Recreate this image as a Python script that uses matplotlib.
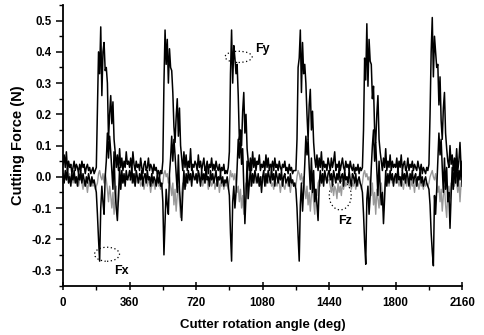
import numpy as np
import matplotlib
matplotlib.use("Agg")
import matplotlib.pyplot as plt
from matplotlib.patches import Ellipse, Arc
from matplotlib.ticker import MultipleLocator, FuncFormatter

plt.rcParams["font.family"] = ["Liberation Sans", "DejaVu Sans"]

# Cutter rotation angle (deg), sampled every 6 deg
angle = np.arange(0, 2161, 6)

# ---- Fy (values read cycle by cycle) ----
fy_c1 = [0.04, 0.07, 0.03, 0.08, 0.02, 0.05, 0.03, 0.04, 0.01, 0.03, 0.05, 0.02, 0.04, 0.03, 0.01,
         0.04, 0.02, 0.05, 0.03, 0.04, 0.01, 0.03, 0.04, 0.02, 0.03, 0.01, 0.02, 0.03, 0.01, 0.02,
         0.03, 0.22, 0.40, 0.33, 0.48, 0.26, 0.40, 0.43, 0.34, 0.35, 0.30, 0.12, 0.20, 0.26, 0.17,
         0.24, 0.12, 0.08, 0.03,
         0.07, 0.02, 0.09, 0.03, 0.06, 0.02, 0.05, 0.03, 0.08, 0.04, 0.05]
fy_c2 = [0.03, 0.06, 0.02, 0.08, 0.04, 0.02, 0.05, 0.03, 0.04, 0.02, 0.06, 0.03, 0.01, 0.04, 0.05,
         0.02, 0.03, 0.06, 0.02, 0.04, 0.03, 0.01, 0.04, 0.02, 0.03, 0.01, 0.02, 0.00, 0.02, 0.01,
         0.05, 0.30, 0.47, 0.36, 0.44, 0.30, 0.41, 0.35, 0.34, 0.27, 0.16, 0.11, 0.19, 0.25, 0.13,
         0.22, 0.10, 0.06, 0.02,
         0.08, 0.03, 0.07, 0.02, 0.05, 0.03, 0.09, 0.02, 0.04, 0.03, 0.05]
fy_c3 = [0.04, 0.02, 0.07, 0.03, 0.05, 0.02, 0.04, 0.06, 0.02, 0.03, 0.05, 0.01, 0.04, 0.03, 0.06,
         0.02, 0.04, 0.02, 0.05, 0.03, 0.02, 0.04, 0.01, 0.03, 0.02, 0.04, 0.01, 0.02, 0.01, 0.03,
         0.08, 0.33, 0.47, 0.30, 0.42, 0.38, 0.33, 0.36, 0.26, 0.12, 0.15, 0.10, 0.21, 0.27, 0.14,
         0.20, 0.09, 0.05, 0.02,
         0.06, 0.02, 0.08, 0.03, 0.06, 0.02, 0.05, 0.04, 0.07, 0.02, 0.04]
fy_c4 = [0.03, 0.05, 0.02, 0.07, 0.03, 0.06, 0.02, 0.04, 0.03, 0.05, 0.02, 0.06, 0.03, 0.04, 0.02,
         0.05, 0.03, 0.02, 0.04, 0.03, 0.05, 0.02, 0.03, 0.01, 0.04, 0.02, 0.03, 0.01, 0.02, 0.02,
         0.02, 0.12, 0.35, 0.38, 0.47, 0.27, 0.43, 0.33, 0.36, 0.30, 0.20, 0.12, 0.23, 0.28, 0.15,
         0.21, 0.11, 0.06, 0.03,
         0.07, 0.02, 0.06, 0.03, 0.08, 0.02, 0.05, 0.03, 0.04, 0.02, 0.06]
fy_c5 = [0.04, 0.02, 0.06, 0.03, 0.05, 0.08, 0.02, 0.04, 0.03, 0.05, 0.02, 0.04, 0.06, 0.03, 0.02,
         0.05, 0.03, 0.04, 0.02, 0.05, 0.03, 0.02, 0.04, 0.01, 0.03, 0.02, 0.04, 0.01, 0.03, 0.02,
         0.03, 0.15, 0.38, 0.31, 0.49, 0.29, 0.44, 0.37, 0.36, 0.25, 0.29, 0.15, 0.11, 0.20, 0.26,
         0.12, 0.08, 0.05, 0.02,
         0.06, 0.03, 0.09, 0.02, 0.05, 0.03, 0.07, 0.02, 0.05, 0.03, 0.04]
fy_c6 = [0.03, 0.06, 0.02, 0.05, 0.03, 0.07, 0.02, 0.04, 0.05, 0.02, 0.03, 0.06, 0.02, 0.04, 0.03,
         0.05, 0.02, 0.04, 0.03, 0.02, 0.05, 0.03, 0.02, 0.04, 0.01, 0.03, 0.02, 0.01, 0.03, 0.02,
         0.04, 0.20, 0.40, 0.51, 0.32, 0.45, 0.40, 0.35, 0.36, 0.23, 0.32, 0.18, 0.12, 0.22, 0.27,
         0.14, 0.09, 0.05, 0.03,
         0.10, 0.04, 0.07, 0.02, 0.06, 0.03, 0.09, 0.02, 0.05, 0.11, 0.03, 0.04]
fy = fy_c1 + fy_c2 + fy_c3 + fy_c4 + fy_c5 + fy_c6

# ---- Fx ----
fx_c1 = [0.01, -0.02, 0.02, -0.01, 0.03, -0.02, 0.00, -0.03, 0.01, -0.01, 0.02, -0.02, 0.00, -0.03, 0.01,
         -0.01, 0.02, -0.02, 0.01, -0.01, -0.03, 0.00, -0.02, 0.01, -0.01, -0.03, 0.00, -0.02, -0.01, -0.03,
         -0.05, -0.12, -0.20, -0.27, -0.10, -0.03, -0.08, -0.12, 0.00, 0.05, 0.14, 0.06, 0.13, 0.08, 0.02,
         -0.04, 0.08, -0.05, -0.10,
         -0.14, -0.06, 0.03, -0.04, 0.02, -0.02, 0.01, -0.03, 0.02, -0.01, 0.00]
fx_c2 = [0.02, -0.01, 0.03, -0.02, 0.01, -0.03, 0.02, 0.00, -0.02, 0.01, -0.01, 0.02, -0.03, 0.00, 0.01,
         -0.02, 0.02, -0.01, 0.00, -0.03, 0.01, -0.02, 0.00, -0.01, -0.03, 0.01, -0.02, 0.00, -0.03, -0.02,
         -0.08, -0.25, -0.14, -0.04, -0.09, -0.12, 0.01, 0.06, 0.13, 0.05, 0.12, 0.07, 0.01, -0.05, 0.07,
         -0.04, -0.09, -0.14, -0.05,
         0.02, -0.04, 0.01, -0.02, 0.02, -0.01, 0.01, -0.03, 0.02, 0.00, -0.01]
fx_c3 = [0.01, -0.02, 0.02, 0.00, -0.03, 0.02, -0.01, 0.01, -0.02, 0.03, -0.01, 0.00, -0.03, 0.02, -0.01,
         0.01, -0.02, 0.00, 0.02, -0.03, 0.00, -0.01, 0.01, -0.02, 0.00, -0.03, -0.01, -0.02, 0.00, -0.03,
         -0.06, -0.18, -0.27, -0.08, -0.03, -0.10, -0.05, 0.03, 0.12, 0.06, 0.14, 0.04, 0.09, -0.03, -0.15,
         -0.06, 0.05, -0.07, -0.02,
         0.03, -0.03, 0.01, -0.02, 0.02, 0.00, -0.02, 0.01, -0.03, 0.00, -0.05]
fx_c4 = [0.00, 0.02, -0.03, 0.01, -0.02, 0.02, 0.00, -0.02, 0.03, -0.01, 0.01, -0.03, 0.02, 0.00, -0.02,
         0.01, -0.01, 0.02, -0.03, 0.00, 0.01, -0.02, -0.01, 0.00, -0.03, 0.01, -0.02, -0.01, -0.03, -0.02,
         -0.04, -0.10, -0.19, -0.27, -0.09, -0.02, -0.11, -0.04, 0.04, 0.13, 0.07, 0.12, 0.03, -0.04, 0.06,
         -0.05, 0.02, -0.08, -0.04,
         -0.09, -0.14, -0.03, 0.02, -0.02, 0.01, -0.03, 0.02, 0.00, -0.02, 0.01]
fx_c5 = [0.02, -0.01, 0.01, -0.03, 0.02, 0.00, -0.02, 0.01, -0.01, 0.03, -0.02, 0.00, 0.01, -0.03, 0.02,
         -0.01, 0.00, -0.02, 0.02, -0.01, -0.03, 0.01, 0.00, -0.02, 0.01, -0.03, -0.01, 0.00, -0.02, -0.03,
         -0.05, -0.12, -0.21, -0.28, -0.07, -0.03, -0.12, -0.06, 0.03, 0.10, 0.15, 0.05, 0.11, 0.02, -0.06,
         0.05, -0.03, -0.09, -0.05,
         -0.15, -0.07, 0.02, -0.03, 0.01, -0.02, 0.02, -0.01, 0.01, -0.03, 0.00]
fx_c6 = [0.01, -0.02, 0.03, -0.01, 0.00, -0.03, 0.02, -0.01, 0.01, -0.02, 0.02, 0.00, -0.03, 0.01, -0.01,
         0.02, -0.02, 0.00, 0.01, -0.03, 0.00, -0.01, 0.02, -0.02, 0.00, -0.03, -0.01, 0.00, -0.02, -0.03,
         -0.04, -0.09, -0.18, -0.24, -0.285, -0.06, -0.12, -0.04, 0.05, 0.14, 0.07, 0.12, 0.03, -0.05, 0.06,
         -0.04, 0.03, -0.08, -0.05,
         -0.165, -0.06, 0.03, -0.04, 0.04, -0.02, 0.06, -0.03, 0.02, -0.01, 0.05, -0.03]
fx = fx_c1 + fx_c2 + fx_c3 + fx_c4 + fx_c5 + fx_c6

# ---- Fz ----
fz_c1 = [0.00, -0.01, 0.01, -0.01, 0.00, -0.02, 0.01, -0.01, 0.00, -0.02, -0.01, 0.00, -0.02, -0.01, -0.03,
         -0.01, 0.00, -0.02, -0.04, -0.01, -0.03, -0.02, -0.05, -0.02, -0.03, -0.01, -0.02, -0.03, -0.02, -0.04,
         -0.03, -0.02, 0.01, 0.02, 0.00, -0.01, 0.01, -0.02, 0.01, -0.01, -0.04, -0.08, -0.03, -0.06, -0.10,
         -0.05, -0.12, -0.07, -0.03,
         -0.10, -0.08, -0.02, -0.04, -0.01, -0.02, 0.00, -0.01, 0.01, 0.00, -0.01]
fz_c2 = [-0.01, 0.00, -0.02, 0.01, -0.01, -0.03, 0.00, -0.02, -0.01, 0.00, -0.03, -0.02, -0.01, -0.04, -0.02,
         0.00, -0.03, -0.01, -0.02, -0.05, -0.02, -0.03, -0.01, -0.04, -0.02, -0.01, -0.03, -0.02, -0.04, -0.03,
         -0.02, 0.01, 0.02, 0.00, 0.01, -0.02, 0.00, -0.03, -0.06, -0.02, -0.09, -0.04, -0.11, -0.06, -0.03,
         -0.08, -0.13, -0.05, -0.02,
         -0.04, -0.01, -0.03, 0.00, -0.02, -0.01, 0.01, -0.02, 0.00, -0.01, 0.00]
fz_c3 = [0.00, -0.02, -0.01, 0.01, -0.02, 0.00, -0.03, -0.01, -0.02, 0.00, -0.01, -0.04, -0.02, -0.01, -0.03,
         -0.02, 0.00, -0.04, -0.02, -0.03, -0.01, -0.05, -0.02, -0.03, -0.01, -0.04, -0.02, -0.03, -0.02, -0.04,
         -0.01, 0.02, 0.00, 0.01, -0.01, 0.01, -0.02, -0.05, -0.03, -0.08, -0.04, -0.10, -0.06, -0.12, -0.04,
         -0.02, -0.07, -0.03, -0.01,
         -0.03, 0.00, -0.02, -0.01, 0.01, -0.02, 0.00, -0.01, -0.03, -0.01, 0.00]
fz_c4 = [-0.02, 0.00, -0.01, -0.03, 0.01, -0.02, -0.01, 0.00, -0.03, -0.02, -0.04, -0.01, -0.02, -0.03, 0.00,
         -0.02, -0.05, -0.02, -0.01, -0.03, -0.04, -0.02, -0.01, -0.03, -0.02, -0.05, -0.02, -0.01, -0.03, -0.02,
         -0.03, 0.00, 0.02, 0.01, -0.01, 0.01, -0.02, 0.00, -0.04, -0.07, -0.03, -0.09, -0.05, -0.11, -0.06,
         -0.03, -0.08, -0.12, -0.04,
         -0.06, -0.02, -0.01, -0.03, 0.00, -0.02, 0.01, -0.01, 0.00, -0.02, -0.01]
fz_c5 = [-0.01, -0.03, -0.05, -0.02, -0.06, -0.03, -0.04, -0.07, -0.02, -0.05, -0.03, -0.06, -0.02, -0.04, -0.01,
         -0.03, -0.02, 0.00, -0.03, -0.01, -0.04, -0.02, -0.03, -0.01, -0.04, -0.02, -0.03, -0.01, -0.02, -0.04,
         -0.02, 0.01, 0.02, 0.00, 0.01, -0.01, 0.00, -0.03, -0.06, -0.02, -0.09, -0.05, -0.12, -0.04, -0.07,
         -0.10, -0.04, -0.02, -0.06,
         -0.11, -0.04, -0.01, -0.02, 0.00, -0.03, -0.01, 0.00, -0.02, -0.01, 0.00]
fz_c6 = [-0.02, 0.00, -0.01, -0.03, -0.01, 0.00, -0.02, -0.04, -0.01, -0.02, -0.03, 0.00, -0.02, -0.04, -0.01,
         -0.03, -0.02, -0.05, -0.01, -0.03, -0.02, -0.04, -0.01, -0.03, -0.02, -0.04, -0.01, -0.03, -0.02, -0.03,
         -0.02, 0.00, 0.01, 0.02, 0.00, -0.01, 0.01, -0.02, -0.05, -0.03, -0.08, -0.04, -0.11, -0.06, -0.03,
         -0.09, -0.13, -0.05, -0.03,
         -0.07, -0.02, -0.04, -0.01, -0.03, 0.00, -0.02, -0.05, -0.01, -0.08, -0.02, -0.01]
fz = fz_c1 + fz_c2 + fz_c3 + fz_c4 + fz_c5 + fz_c6

# ---- Plot ----
fig = plt.figure(figsize=(4.85, 3.35), dpi=100)
ax = fig.add_axes([0.13, 0.146, 0.823, 0.839])

ax.plot(angle, fz, color="0.6", linewidth=1.0)
ax.plot(angle, fx, color="black", linewidth=1.1)
ax.plot(angle, fy, color="black", linewidth=1.1)

ax.set_xlim(0, 2160)
ax.set_ylim(-0.35, 0.55)

for side in ("top", "right"):
    ax.spines[side].set_visible(False)
ax.spines["left"].set_linewidth(1.3)
ax.spines["bottom"].set_linewidth(1.3)

ax.xaxis.set_major_locator(MultipleLocator(360))
ax.xaxis.set_minor_locator(MultipleLocator(180))
ax.yaxis.set_major_locator(MultipleLocator(0.1))
ax.yaxis.set_minor_locator(MultipleLocator(0.05))
ax.yaxis.set_major_formatter(FuncFormatter(lambda v, _: f"{v:.1f}"))

ax.tick_params(axis="y", which="major", direction="out", length=5, width=1.1, pad=3)
ax.tick_params(axis="y", which="minor", direction="out", length=3, width=1.0)
ax.tick_params(axis="x", which="major", direction="inout", length=6, width=1.1, pad=5)
ax.tick_params(axis="x", which="minor", direction="out", length=3, width=1.0)
for lab in ax.get_xticklabels() + ax.get_yticklabels():
    lab.set_fontsize(8.3)
    lab.set_fontweight("bold")

ax.set_xlabel("Cutter rotation angle (deg)", fontsize=9.5, fontweight="bold", labelpad=7)
ax.set_ylabel("Cutting Force (N)", fontsize=10.5, fontweight="bold", labelpad=5)

# dotted markers around the curves with labels
ax.add_patch(Ellipse((950, 0.384), 146, 0.036, fill=False, linestyle=(0, (1, 2)), linewidth=0.9))
ax.text(1040, 0.408, "Fy", fontsize=9, fontweight="bold", va="center")
ax.add_patch(Ellipse((238, -0.248), 135, 0.045, fill=False, linestyle=(0, (1, 2)), linewidth=0.9))
ax.text(317, -0.303, "Fx", fontsize=9, fontweight="bold", va="center", ha="center")
ax.add_patch(Arc((1500, -0.06), 119, 0.092, theta1=150, theta2=380, linestyle=(0, (1, 2)), linewidth=0.9))
ax.text(1527, -0.14, "Fz", fontsize=9, fontweight="bold", va="center", ha="center")

fig.savefig("out.png", dpi=100)
